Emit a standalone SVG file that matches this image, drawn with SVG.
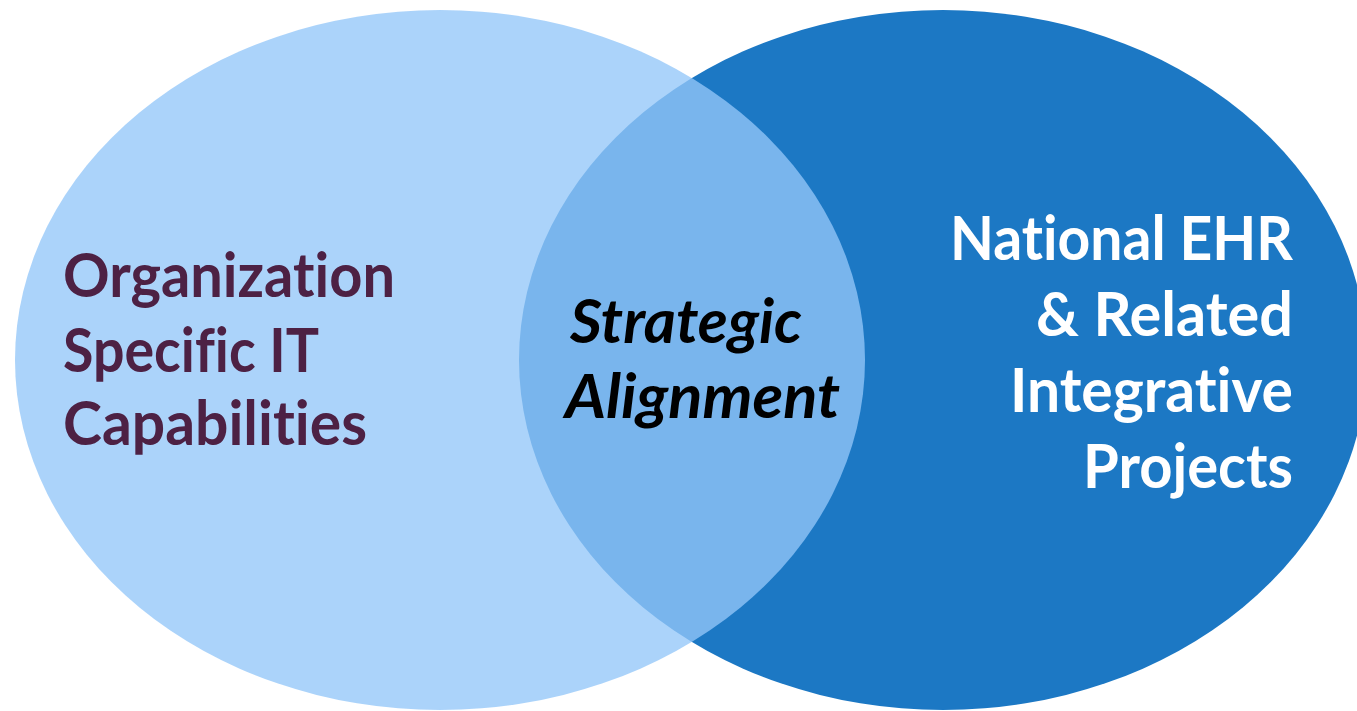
<svg xmlns="http://www.w3.org/2000/svg" width="1357" height="711" viewBox="0 0 1357 711">
  <style>
    .lbl { font-family: Lato, "Open Sans", "Liberation Sans", sans-serif; font-weight: 700; font-size: 61px; font-variant-ligatures: none; font-feature-settings: "liga" 0, "clig" 0; }
    .left { fill: #4D2144; }
    .right { fill: #FFFFFF; text-anchor: end; }
    .mid { fill: #000000; font-style: italic; }
  </style>
  <rect x="0" y="0" width="1357" height="711" fill="#FFFFFF"/>
  <g id="national-ehr">
    <ellipse cx="943" cy="360" rx="424" ry="350" fill="#1C78C4"/>
  </g>
  <g id="organization-it">
    <ellipse cx="440" cy="360" rx="425" ry="350" fill="#93C7F9" fill-opacity="0.78"/>
  </g>
  <g id="organization-it-label">
    <text class="lbl left" x="63" y="297" textLength="332" lengthAdjust="spacingAndGlyphs">Organization</text>
    <text class="lbl left" x="63" y="372" textLength="256" lengthAdjust="spacingAndGlyphs">Specific IT</text>
    <text class="lbl left" x="63" y="445" textLength="304" lengthAdjust="spacingAndGlyphs">Capabilities</text>
  </g>
  <g id="national-ehr-label">
    <text class="lbl right" x="1293" y="260" textLength="343" lengthAdjust="spacingAndGlyphs">National EHR</text>
    <text class="lbl right" x="1293" y="336" textLength="257" lengthAdjust="spacingAndGlyphs">&amp; Related</text>
    <text class="lbl right" x="1293" y="412" textLength="283" lengthAdjust="spacingAndGlyphs">Integrative</text>
    <text class="lbl right" x="1293" y="488" textLength="210" lengthAdjust="spacingAndGlyphs">Projects</text>
  </g>
  <g id="strategic-alignment">
    <text class="lbl mid" x="570" y="343" textLength="232" lengthAdjust="spacingAndGlyphs">Strategic</text>
    <text class="lbl mid" x="565" y="418" textLength="275" lengthAdjust="spacingAndGlyphs">Alignment</text>
  </g>
  <g id="connectors"/>
</svg>
